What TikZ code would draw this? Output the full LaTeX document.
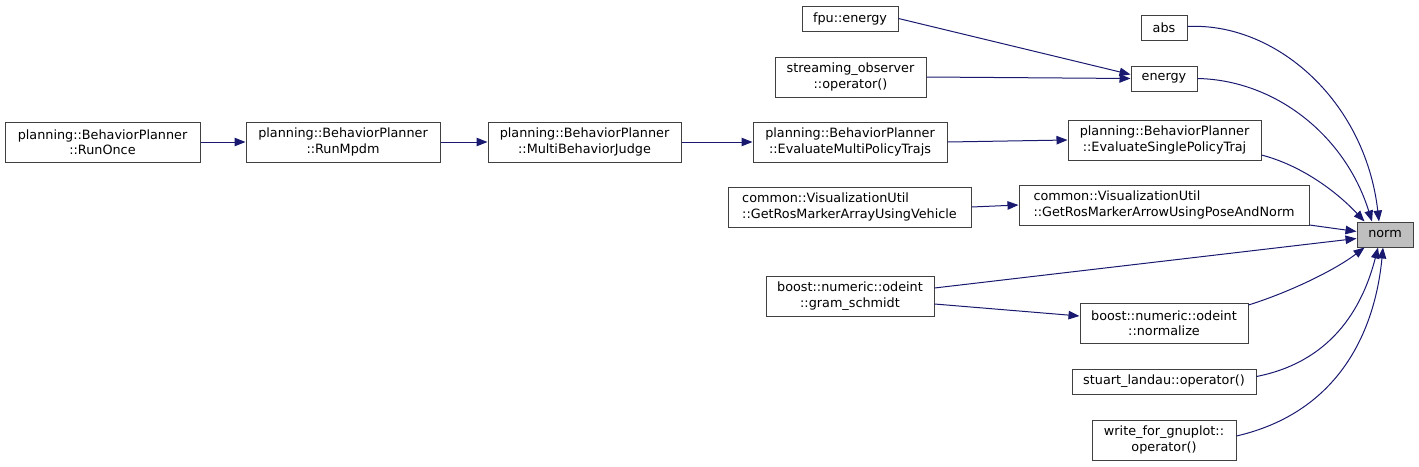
\documentclass[tikz,border=0pt]{standalone}
\usepackage{fontspec}
\setmainfont{DejaVu Sans}
\usepackage{tikz}
\usetikzlibrary{arrows.meta,calc}
\definecolor{edgeblue}{HTML}{191970}
\definecolor{boxline}{HTML}{404040}
\definecolor{curfill}{HTML}{BFBFBF}
\tikzset{
  >={Triangle[length=11pt,width=8.5pt]},
  flow/.style={->,draw=edgeblue,fill=none,line width=1pt},
  fn/.style={draw=boxline,fill=white,line width=1pt,minimum height=25pt,
             align=center,inner xsep=0pt,inner ysep=0pt,
             font=\fontsize{12.8}{15.5}\selectfont},
  fntwo/.style={fn,minimum height=40pt},
  current/.style={fn,fill=curfill},
}

\begin{document}
\begin{tikzpicture}[x=1pt,y=-1pt]
  \useasboundingbox (0,0) rectangle (1419,466);
  \node[current,minimum width=56pt] (norm) at (1385,234.5) {norm};

  \node[fn,minimum width=46pt] (abs) at (1164,27.5) {abs};
  \node[fn,minimum width=66pt] (energy) at (1164,78.5) {energy};
  \node[fntwo,minimum width=193pt] (evalsingle) at (1164.5,140) {planning::BehaviorPlanner\\::EvaluateSinglePolicyTraj};
  \node[fntwo,minimum width=290pt,align=left] (arrowmarker) at (1164,205) {common::VisualizationUtil\\::GetRosMarkerArrowUsingPoseAndNorm};
  \node[fntwo,minimum width=168pt] (normalize) at (1164,323) {boost::numeric::odeint\\::normalize};
  \node[fn,minimum width=184pt] (stuart) at (1164,381.5) {stuart\_landau::operator()};
  \node[fntwo,minimum width=144pt] (gnuplot) at (1164,440) {write\_for\_gnuplot::\\operator()};

  \node[fn,minimum width=96pt] (fpuenergy) at (850,18.5) {fpu::energy};
  \node[fntwo,minimum width=151pt] (observer) at (850.5,77) {streaming\_observer\\::operator()};
  \node[fntwo,minimum width=194pt] (evalmulti) at (850,142) {planning::BehaviorPlanner\\::EvaluateMultiPolicyTrajs};
  \node[fntwo,minimum width=243pt,align=left] (arraymarker) at (849.5,207) {common::VisualizationUtil\\::GetRosMarkerArrayUsingVehicle};
  \node[fntwo,minimum width=168pt] (gram) at (850,296) {boost::numeric::odeint\\::gram\_schmidt};

  \node[fntwo,minimum width=193pt] (judge) at (584.5,142) {planning::BehaviorPlanner\\::MultiBehaviorJudge};
  \node[fntwo,minimum width=194pt] (mpdm) at (343,142) {planning::BehaviorPlanner\\::RunMpdm};
  \node[fntwo,minimum width=195pt] (runonce) at (102.5,142) {planning::BehaviorPlanner\\::RunOnce};

  \draw[flow] (runonce) -- (mpdm);
  \draw[flow] (mpdm) -- (judge);
  \draw[flow] (judge) -- (evalmulti);
  \draw[flow] (evalmulti.east) -- (evalsingle.west);
  \draw[flow] (arraymarker.east) -- (arrowmarker.west);
  \draw[flow] (fpuenergy.east) -- ($(energy.west)+(0,-4)$);
  \draw[flow] (observer.east) -- (energy.west);
  \draw[flow] ($(gram.east)+(0,8)$) -- ($(normalize.west)+(0,-7)$);
  \draw[flow] ($(gram.east)+(0,-8)$) -- ($(norm.west)+(0,4)$);
  \draw[flow] ($(arrowmarker.east)+(0,20)$) -- ($(norm.west)+(0,-3)$);
  \draw[flow] ($(abs.east)+(0,-1)$) .. controls (1275,22) and (1365,100) .. ($(norm.north)+(-6,0)$);
  \draw[flow] (energy.east) .. controls (1275,80) and (1345,135) .. ($(norm.north)+(-13,0)$);
  \draw[flow] ($(evalsingle.east)+(0,15)$) .. controls (1300,165) and (1335,190) .. ($(norm.north west)+(8,0)$);
  \draw[flow] ($(normalize.east)+(0,-18)$) .. controls (1290,292) and (1335,270) .. ($(norm.south west)+(8,0)$);
  \draw[flow] ($(stuart.east)+(0,-5)$) .. controls (1330,362) and (1362,310) .. ($(norm.south)+(-7,0)$);
  \draw[flow] ($(gnuplot.east)+(0,-4)$) .. controls (1340,412) and (1375,330) .. ($(norm.south)+(-2,0)$);
\end{tikzpicture}
\end{document}
